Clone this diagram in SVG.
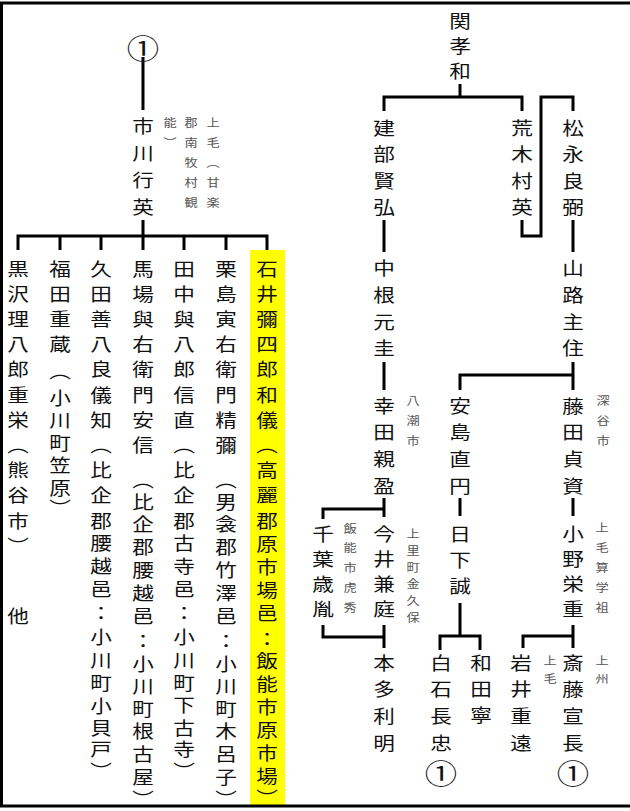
<svg xmlns="http://www.w3.org/2000/svg" width="630" height="811" viewBox="0 0 630 811">
<style>
text{font-family:"Noto Sans CJK JP","Noto Sans CJK SC",sans-serif;text-anchor:middle;dominant-baseline:central;transform-box:fill-box;transform-origin:center;transform:scaleX(1.2)}
.n{font-size:18px;fill:#111}
.a{font-size:11px;fill:#555}
.c{font-size:27px;fill:#111}
.ln{fill:none;stroke:#000;stroke-width:3}
</style>
<rect x="250" y="250" width="35" height="555" fill="#ffff00"/>
<path class="ln" d="M630,3 H1.5 V806 H630"/>
<g id="connectors" class="ln">
<path d="M143,57 V110"/>
<path d="M18,250 V236 H267 V250 M60,236 V250 M101,236 V250 M143,220 V250 M184,236 V250 M226,236 V250"/>
<path d="M460,84 V97"/>
<path d="M384,111 V97 H522 V111"/>
<path d="M522,220 V236 H541 V97 H573 V111"/>
<path d="M384,220 V252 M573,220 V252"/>
<path d="M384,362 V390 M573,362 V390"/>
<path d="M460,390 V375 H573"/>
<path d="M384,498 V517 M323,519 V509 H384"/>
<path d="M460,498 V516 M573,498 V516"/>
<path d="M384,625 V648 M323,625 V637 H384"/>
<path d="M460,603 V636 M440,650 V636 H480 V650"/>
<path d="M573,625 V648 M523,648 V636 H573"/>
</g>
<g id="n-circle1"><text class="c" x="143" y="47">①</text></g>
<g id="n-ichikawa">
<text class="n" x="143 143 143 143" y="125 152 179 206">市川行英</text>
<text class="a" x="213 213 213 213 213" y="122 142 162 182 202">上毛︵甘楽</text>
<text class="a" x="191 191 191 191 191" y="122 142 162 182 202">郡南牧村観</text>
<text class="a" x="170 170" y="122 142">能︶</text>
</g>
<g id="n-kurosawa">
<text class="n" x="18 18 18 18 18 18 18 18 18 18 18 18" y="268 293.2 318.4 343.6 368.8 394 419.2 444.4 469.6 494.8 520 545.2">黒沢理八郎重栄︵熊谷市︶</text>
<text class="n" x="18" y="615">他</text>
</g>
<g id="n-fukuda">
<text class="n" x="60 60 60 60 60 60 60 60 60 60 60" y="268 293.2 318.4 343.6 370 397 419.5 442 464.5 487 507">福田重蔵︵小川町笠原︶</text>
</g>
<g id="n-kuda">
<text class="n" x="101 101 101 101 101 101 101 101 101 101 101 101 101 101 101 101 101 101 101 101 101 101" y="268 293.2 318.4 343.6 368.8 394 419.2 444.4 469.6 494.8 520 542.7 565.4 588.1 612 636 659 682 705 727 748 770">久田善八良儀知︵比企郡腰越邑：小川町小貝戸︶</text>
</g>
<g id="n-baba">
<text class="n" x="143 143 143 143 143 143 143 143 143 143 143 143 143 143 143 143 143 143 143 143 143 143 143" y="268 293.2 318.4 343.6 368.8 394 419.2 444.4 479 501 523 546 569 592 615 640 663 685 708 730 753 776 798">馬場與右衛門安信︵比企郡腰越邑：小川町根古屋︶</text>
</g>
<g id="n-tanaka">
<text class="n" x="184 184 184 184 184 184 184 184 184 184 184 184 184 184 184 184 184 184 184 184 184 184" y="268 293.2 318.4 343.6 368.8 394 419.2 444.4 469.6 494.8 520 542.7 565.4 588.1 612 636 659 682 704 727 748 770">田中與八郎信直︵比企郡古寺邑：小川町下古寺︶</text>
</g>
<g id="n-kurijima">
<text class="n" x="226 226 226 226 226 226 226 226 226 226 226 226 226 226 226 226 226 226 226 226 226 226 226" y="268 293.2 318.4 343.6 368.8 394 419.2 444.4 479 501 523 546 569 592 615 640 663 685 708 730 753 776 798">栗島寅右衛門精彌︵男衾郡竹澤邑：小川町木呂子︶</text>
</g>
<g id="n-ishii">
<text class="n" x="267 267 267 267 267 267 267 267 267 267 267 267 267 267 267 267 267 267 267 267 267 267 267" y="268 293.2 318.4 343.6 368.8 394 419.2 444.4 469.6 494.8 520 543 566 589 612 638 660 683 706 729 752 775 797">石井彌四郎和儀︵高麗郡原市場邑：飯能市原市場︶</text>
</g>
<g id="n-seki"><text class="n" x="460 460 460" y="20 45 70">関孝和</text></g>
<g id="n-takebe"><text class="n" x="384 384 384 384" y="127 153 180 206">建部賢弘</text></g>
<g id="n-araki"><text class="n" x="522 522 522 522" y="127 153 180 206">荒木村英</text></g>
<g id="n-matsunaga"><text class="n" x="573 573 573 573" y="127 153 180 206">松永良弼</text></g>
<g id="n-nakane"><text class="n" x="384 384 384 384" y="267 294 321 347">中根元圭</text></g>
<g id="n-yamaji"><text class="n" x="573 573 573 573" y="267 294 321 347">山路主住</text></g>
<g id="n-koda">
<text class="n" x="384 384 384 384" y="405 431 458 485">幸田親盈</text>
<text class="a" x="413 413 413" y="400 420 440">八潮市</text>
</g>
<g id="n-ajima"><text class="n" x="460 460 460 460" y="405 431 458 485">安島直円</text></g>
<g id="n-fujita">
<text class="n" x="573 573 573 573" y="405 431 458 485">藤田貞資</text>
<text class="a" x="603 603 603" y="400 420 440">深谷市</text>
</g>
<g id="n-chiba">
<text class="n" x="323 323 323 323" y="533 558 583 608">千葉歳胤</text>
<text class="a" x="350 350 350 350 350" y="528 547 567 587 607">飯能市虎秀</text>
</g>
<g id="n-imai">
<text class="n" x="384 384 384 384" y="533 558 583 608">今井兼庭</text>
<text class="a" x="413 413 413 413 413 413" y="533 550 567 583 600 617">上里町金久保</text>
</g>
<g id="n-kusaka"><text class="n" x="460 460 460" y="533 559 585">日下誠</text></g>
<g id="n-ono">
<text class="n" x="573 573 573 573" y="533 558 583 608">小野栄重</text>
<text class="a" x="602 602 602 602 602" y="527 547 567 587 607">上毛算学祖</text>
</g>
<g id="n-honda"><text class="n" x="384 384 384 384" y="662 688 715 742">本多利明</text></g>
<g id="n-shiraishi">
<text class="n" x="441 441 441 441" y="662 688 715 742">白石長忠</text>
<text class="c" x="441" y="772">①</text>
</g>
<g id="n-wada"><text class="n" x="481 481 481" y="662 688 714">和田寧</text></g>
<g id="n-iwai">
<text class="n" x="521 521 521 521" y="662 688 715 742">岩井重遠</text>
<text class="a" x="550 550" y="660 678">上毛</text>
</g>
<g id="n-saito">
<text class="n" x="573 573 573 573" y="662 688 715 742">斎藤宣長</text>
<text class="c" x="573" y="772">①</text>
<text class="a" x="602 602" y="660 678">上州</text>
</g>
</svg>
